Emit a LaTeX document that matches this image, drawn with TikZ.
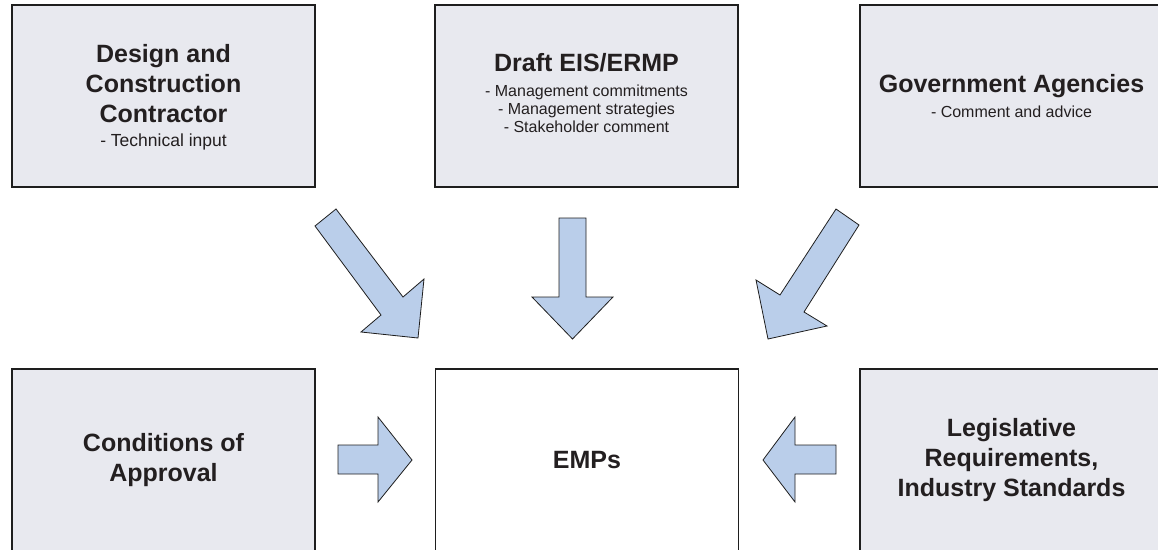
\documentclass[tikz,border=0pt]{standalone}
\usepackage{fontspec}
\setmainfont{Liberation Sans}
\definecolor{boxfill}{HTML}{E8E9EF}
\definecolor{arrowfill}{HTML}{BACEEA}
\definecolor{ink}{HTML}{231F20}
\definecolor{edge}{HTML}{1E1E1E}
\newcommand{\ttl}{\fontsize{25}{30}\selectfont\bfseries}
\newcommand{\subl}[2][16]{{\fontsize{#1}{18.3}\selectfont\mdseries\begin{tabular}[t]{@{}c@{}}#2\end{tabular}}}
\begin{document}
\begin{tikzpicture}[x=1pt,y=-1pt,
  box/.style={draw=edge,line width=1.2pt,fill=boxfill,minimum width=303pt,minimum height=182pt,
    inner sep=0pt},
  whitebox/.style={box,fill=white},
  boxtext/.style={inner sep=0pt,align=center,text=ink,font=\ttl},
  blockarrow/.style={draw=edge,line width=0.8pt,fill=arrowfill,line join=miter}]
\useasboundingbox (0,0) rectangle (1158,549);
\begin{scope}
\clip (0,0) rectangle (1158,549);
% boxes
\node[box] (dcc) at (163.5,96) {};
\node[box] (eis) at (586.5,96) {};
\node[box] (gov) at (1011.5,96) {};
\node[box] (coa) at (163.5,460) {};
\node[whitebox] (emp) at (587,460) {};
\node[box] (leg) at (1011.5,460) {};
\end{scope}
% texts
\node[boxtext] (dcct) at ([yshift=-2.5pt]dcc.center) {\ttl Design and\\\ttl Construction\\\ttl Contractor\\[-6pt]\subl[17.5]{- Technical input}};
\node[boxtext] (eist) at (eis.center) {\ttl Draft EIS/ERMP\\[-5.5pt]\subl{- Management commitments\\- Management strategies\\- Stakeholder comment}};
\node[boxtext] (govt) at ([yshift=-2.5pt]gov.center) {\ttl Government Agencies\\[-5.5pt]\subl{- Comment and advice}};
\node[boxtext] (coat) at (coa.center) {\ttl Conditions of\\\ttl Approval};
\node[boxtext] (empt) at (emp.center) {\ttl EMPs};
\node[boxtext] (legt) at (leg.center) {\ttl Legislative\\\ttl Requirements,\\\ttl Industry Standards};
% block arrows into EMPs
\draw[blockarrow] (336,209) -- (403,297) -- (424,279) -- (418,338) -- (361,332) -- (381,315) -- (315,226) -- cycle;
\draw[blockarrow] (559,218) -- (586,218) -- (586,297) -- (613,297) -- (572.5,339) -- (532,297) -- (559,297) -- cycle;
\draw[blockarrow] (836,209) -- (780,295) -- (756,280) -- (768,339) -- (827,326) -- (804,312) -- (859,225) -- cycle;
\draw[blockarrow] (338,445) -- (378,445) -- (378,417) -- (412,460) -- (378,502) -- (378,474) -- (338,474) -- cycle;
\draw[blockarrow] (836,445) -- (795,445) -- (795,417) -- (763,460) -- (795,502) -- (795,474) -- (836,474) -- cycle;
\end{tikzpicture}
\end{document}
